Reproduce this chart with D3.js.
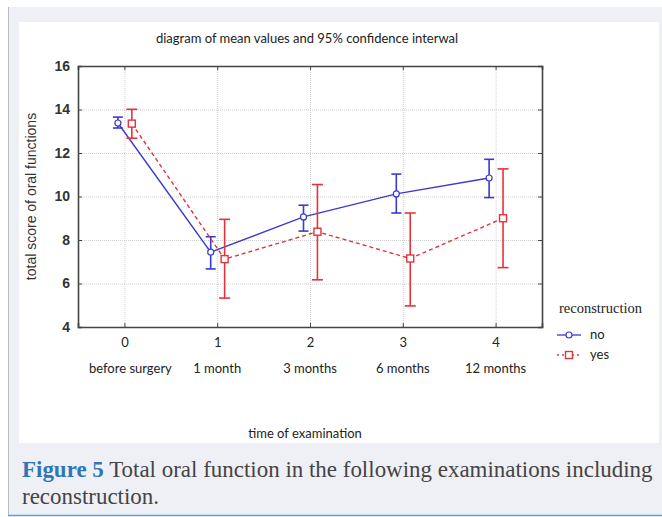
<!DOCTYPE html>
<html>
<head>
<meta charset="utf-8">
<script src="https://cdn.jsdelivr.net/npm/d3@7"></script>
<style>
  body { margin: 0; background: #fff; }
  svg { display: block; }
</style>
</head>
<body>
<script>
// chart values
var times = [0, 1, 2, 3, 4];
var timeLabels = ['before surgery', '1 month', '3 months', '6 months', '12 months'];
var yTicks = [4, 6, 8, 10, 12, 14, 16];

var noMean  = [13.38, 7.44, 9.06, 10.12, 10.85];
var noLow   = [13.15, 6.67, 8.41, 9.24, 9.95];
var noHigh  = [13.65, 8.15, 9.60, 11.03, 11.71];

var yesMean = [13.35, 7.12, 8.38, 7.15, 9.00];
var yesLow  = [12.68, 5.33, 6.17, 4.97, 6.73];
var yesHigh = [14.01, 8.95, 10.55, 9.24, 11.27];

var width = 662, height = 517;
var plotL = 78, plotR = 542, plotT = 66, plotB = 327;

var svg = d3.select('body').append('svg').attr('width', width).attr('height', height);

// page panel
svg.append('rect').attr('x', 8).attr('y', 7).attr('width', 654).attr('height', 508).attr('fill', '#eff0f5');
svg.append('line').attr('x1', 8.5).attr('x2', 8.5).attr('y1', 7).attr('y2', 515).attr('stroke', '#b9bcc6');
svg.append('line').attr('x1', 8).attr('x2', 662).attr('y1', 515.5).attr('y2', 515.5).attr('stroke', '#5aa0dc').attr('stroke-width', 1.5);
svg.append('rect').attr('x', 19).attr('y', 22).attr('width', 640).attr('height', 421).attr('fill', '#fff');

var x = d3.scaleLinear().domain([-0.5, 4.5]).range([plotL, plotR]);
var y = d3.scaleLinear().domain([4, 16]).range([plotB, plotT]);

var sans = 'Lato, "Open Sans", sans-serif';
var narrow = '"Liberation Sans Narrow", "Liberation Sans", Arial, sans-serif';
var serif = '"Liberation Serif", "DejaVu Serif", serif';

// grid
svg.append('g').selectAll('line').data(yTicks.slice(1, -1)).enter().append('line')
  .attr('x1', plotL).attr('x2', plotR)
  .attr('y1', function(d) { return y(d) + 0.5; }).attr('y2', function(d) { return y(d) + 0.5; })
  .attr('stroke', '#cfcfcf').attr('stroke-dasharray', '1,1');
svg.append('g').selectAll('line').data(times).enter().append('line')
  .attr('y1', plotT).attr('y2', plotB)
  .attr('x1', function(d) { return x(d) + 0.5; }).attr('x2', function(d) { return x(d) + 0.5; })
  .attr('stroke', '#cfcfcf').attr('stroke-dasharray', '1,1');

// axes with inner ticks
var axL = svg.append('g').attr('transform', 'translate(' + plotL + ',0)')
  .call(d3.axisLeft(y).tickValues(yTicks).tickSize(-4).tickPadding(8));
var axR = svg.append('g').attr('transform', 'translate(' + plotR + ',0)')
  .call(d3.axisRight(y).tickValues(yTicks).tickSize(-4).tickFormat(''));
var axB = svg.append('g').attr('transform', 'translate(0,' + plotB + ')')
  .call(d3.axisBottom(x).tickValues(times).tickSize(-4).tickPadding(11).tickFormat(d3.format('d')));
var axT = svg.append('g').attr('transform', 'translate(0,' + plotT + ')')
  .call(d3.axisTop(x).tickValues(times).tickSize(-4).tickFormat(''));
[axL, axR, axB, axT].forEach(function(a) {
  a.select('.domain').attr('stroke', '#444').attr('stroke-width', 1.6);
  a.selectAll('.tick line').attr('stroke', '#444');
});
axL.selectAll('text').attr('font-family', narrow).attr('font-size', 14).attr('font-weight', 'bold').attr('fill', '#333');
axB.selectAll('text').attr('font-family', sans).attr('font-size', 13).attr('fill', '#222');

// second row of x labels
svg.append('g').selectAll('text').data(times).enter().append('text')
  .attr('x', function(d) { return x(d) + (d === 0 ? 6 : 0); })
  .attr('y', 373)
  .attr('text-anchor', 'middle')
  .attr('font-family', sans).attr('font-size', 13).attr('fill', '#222')
  .text(function(d, i) { return timeLabels[i]; });

// titles
svg.append('text').attr('x', 307).attr('y', 43).attr('text-anchor', 'middle')
  .attr('font-family', sans).attr('font-size', 13).attr('fill', '#222')
  .text('diagram of mean values and 95% confidence interwal');
svg.append('text').attr('x', 305).attr('y', 438).attr('text-anchor', 'middle')
  .attr('font-family', sans).attr('font-size', 13).attr('fill', '#222')
  .text('time of examination');
svg.append('text').attr('transform', 'translate(36,' + ((plotT + plotB) / 2) + ') rotate(-90)')
  .attr('text-anchor', 'middle')
  .attr('font-family', narrow).attr('font-size', 14).attr('fill', '#333')
  .text('total score of oral functions');

// series
var series = [
  { name: 'no', mean: noMean, low: noLow, high: noHigh, color: '#3a3ad0', dx: -0.07, dash: null, cap: 5, marker: 'circle' },
  { name: 'yes', mean: yesMean, low: yesLow, high: yesHigh, color: '#e5333b', dx: 0.08, dash: '4,3', cap: 5.5, marker: 'square' }
];

var line = d3.line();

function drawMarkers(g, pts, s) {
  pts.forEach(function(p) {
    if (s.marker === 'circle') {
      g.append('circle').attr('cx', p[0]).attr('cy', p[1]).attr('r', 3)
        .attr('fill', '#fff').attr('stroke', s.color).attr('stroke-width', 1.2);
    } else {
      g.append('rect').attr('x', p[0] - 3.5).attr('y', p[1] - 3.5).attr('width', 7).attr('height', 7)
        .attr('fill', '#fff').attr('stroke', s.color).attr('stroke-width', 1.4);
    }
  });
}

series.forEach(function(s) {
  var pts = times.map(function(t, i) { return [x(t + s.dx), y(s.mean[i])]; });
  var g = svg.append('g');
  g.append('path').attr('d', line(pts)).attr('fill', 'none')
    .attr('stroke', s.color).attr('stroke-width', 1.4)
    .attr('stroke-dasharray', s.dash);
  times.forEach(function(t, i) {
    var cx = x(t + s.dx);
    g.append('line').attr('x1', cx).attr('x2', cx).attr('y1', y(s.low[i])).attr('y2', y(s.high[i]))
      .attr('stroke', s.color).attr('stroke-width', 1.6);
    [s.low[i], s.high[i]].forEach(function(v) {
      g.append('line').attr('x1', cx - s.cap).attr('x2', cx + s.cap).attr('y1', y(v)).attr('y2', y(v))
        .attr('stroke', s.color).attr('stroke-width', 1.6);
    });
  });
  drawMarkers(g, pts, s);
});

// legend
var lg = svg.append('g');
lg.append('text').attr('x', 559).attr('y', 313)
  .attr('font-family', serif).attr('font-size', 14.5).attr('fill', '#222')
  .text('reconstruction');
series.forEach(function(s, i) {
  var ly = 335 + i * 20;
  lg.append('line').attr('x1', 557).attr('x2', 581).attr('y1', ly).attr('y2', ly)
    .attr('stroke', s.color).attr('stroke-width', 1.3).attr('stroke-dasharray', s.dash ? '2,3' : null);
  drawMarkers(lg, [[569, ly]], s);
  lg.append('text').attr('x', 590).attr('y', ly + 4)
    .attr('font-family', sans).attr('font-size', 13).attr('fill', '#222')
    .text(s.name);
});

// caption
var cap = svg.append('text').attr('x', 22).attr('y', 477)
  .attr('font-family', serif).attr('font-size', 20).attr('fill', '#444');
cap.append('tspan').attr('font-weight', 'bold').attr('fill', '#2f76b8').text('Figure 5');
cap.append('tspan').text(' Total oral function in the following examinations including');
var len = cap.node().getComputedTextLength();
cap.attr('font-size', 20 * 631 / len);
svg.append('text').attr('x', 22).attr('y', 504)
  .attr('font-family', serif).attr('font-size', 20 * 631 / len).attr('fill', '#444')
  .text('reconstruction.');
</script>
</body>
</html>
